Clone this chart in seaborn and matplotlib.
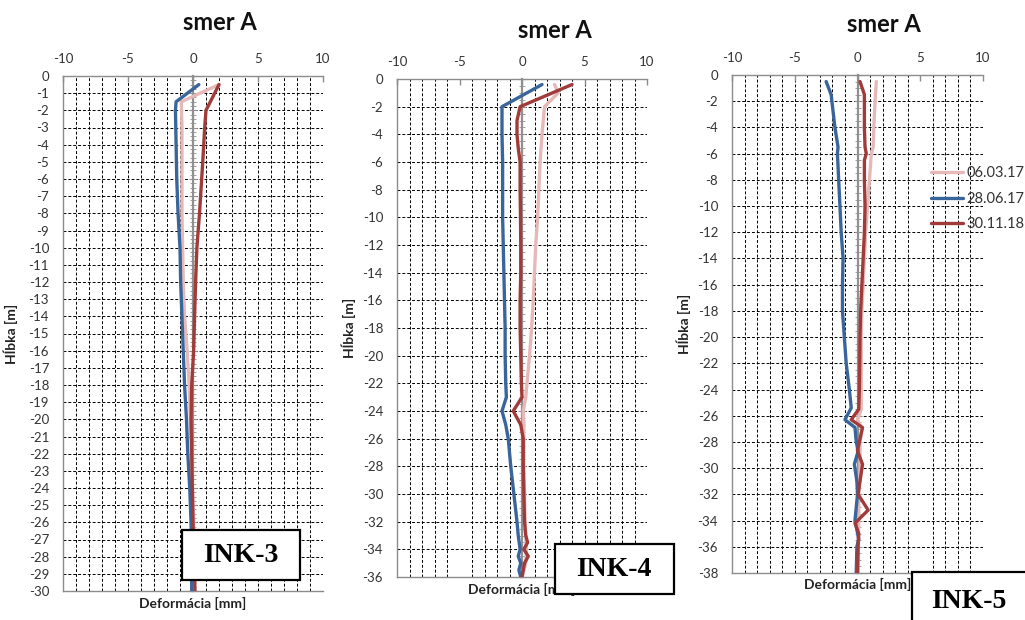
import numpy as np
import pandas as pd
import matplotlib
matplotlib.use("Agg")
import matplotlib.pyplot as plt
from matplotlib.patches import Rectangle
from matplotlib.ticker import MultipleLocator
import seaborn as sns

# ---------------- data ----------------
dates = ["06.03.17", "28.06.17", "30.11.18"]

# INK-3
ink3_pink_depth = [-0.5, -1.5, -3, -5, -8, -10, -12, -14, -16, -18, -20, -22, -24, -26, -28, -30]
ink3_pink_def = [2.0, -0.9, -0.85, -0.85, -0.85, -0.8, -0.75, -0.65, -0.45, -0.3, -0.2, -0.1, -0.05, 0.05, 0.1, 0.1]
ink3_blue_depth = [-0.5, -1.5, -2, -4, -6, -8, -10, -12, -14, -16, -18, -20, -22, -24, -26, -28, -30]
ink3_blue_def = [0.45, -1.3, -1.35, -1.3, -1.25, -1.15, -1.0, -0.95, -0.85, -0.75, -0.65, -0.5, -0.4, -0.25, -0.15, -0.1, -0.1]
ink3_red_depth = [-0.5, -2, -3, -5, -8, -10, -12, -14, -16, -18, -20, -22, -24, -26, -28, -30]
ink3_red_def = [2.0, 1.0, 0.9, 0.75, 0.5, 0.3, 0.2, 0.12, 0.05, -0.1, -0.15, -0.1, -0.05, 0.0, 0.1, 0.15]

# INK-4
ink4_pink_depth = [-0.4, -1, -2, -4, -6, -8, -10, -12, -14, -16, -18, -20, -22, -23, -24, -25, -26, -28, -30, -32, -34, -35, -36]
ink4_pink_def = [2.6, 2.9, 1.8, 1.6, 1.45, 1.35, 1.25, 1.1, 1.0, 0.9, 0.77, 0.6, 0.4, 0.3, 0.1, 0.15, 0.15, 0.15, 0.2, 0.25, 0.35, 0.3, 0.0]
ink4_blue_depth = [-0.4, -2, -4, -6, -8, -10, -12, -14, -16, -18, -20, -22, -23, -24, -25, -26, -28, -30, -32, -33, -34, -34.5, -35, -35.5, -36]
ink4_blue_def = [1.6, -1.6, -1.6, -1.55, -1.55, -1.55, -1.5, -1.45, -1.4, -1.35, -1.35, -1.3, -1.25, -1.6, -1.3, -1.1, -0.9, -0.65, -0.4, -0.3, -0.15, -0.3, -0.1, -0.25, -0.1]
ink4_red_depth = [-0.4, -2, -3, -4, -5, -6, -8, -10, -12, -14, -16, -18, -20, -22, -23, -24, -25, -26, -28, -30, -32, -33, -33.5, -34, -34.5, -35, -36]
ink4_red_def = [4.0, -0.15, -0.4, -0.4, -0.3, -0.15, -0.15, -0.12, -0.1, -0.1, -0.15, -0.15, -0.1, -0.05, 0.0, -0.7, -0.1, 0.1, 0.1, 0.15, 0.2, 0.3, 0.45, 0.15, 0.5, 0.2, 0.0]

# INK-5
ink5_pink_depth = [-0.5, -2, -4, -5.5, -6, -8, -10, -12, -14, -16, -18, -20, -22, -24, -25.5, -26.3, -27, -28, -30, -32, -34, -36, -38]
ink5_pink_def = [1.5, 1.4, 1.3, 1.25, 1.1, 0.95, 0.8, 0.65, 0.55, 0.45, 0.35, 0.3, 0.3, 0.3, 0.3, 0.0, 0.35, 0.2, 0.2, 0.1, 0.1, 0.05, 0.05]
ink5_blue_depth = [-0.5, -1.5, -4, -5.5, -6, -8, -10, -12, -14, -16, -18, -20, -22, -24, -25.4, -26.3, -26.9, -28, -28.7, -29.7, -31, -32, -33, -34, -35.4, -36, -38]
ink5_blue_def = [-2.5, -2.1, -1.8, -1.55, -1.6, -1.5, -1.4, -1.3, -1.15, -1.2, -1.2, -1.05, -0.9, -0.65, -0.5, -1.0, -0.2, -0.1, 0.05, -0.25, -0.05, 0.0, -0.1, -0.2, 0.1, -0.05, -0.1]
ink5_red_depth = [-0.5, -1.5, -4, -5.5, -6, -6.5, -8, -10, -12, -14, -16, -18, -20, -22, -24, -25.5, -26.3, -26.9, -28, -28.7, -29.7, -31, -32, -33.2, -34.2, -35, -36, -38]
ink5_red_def = [0.2, 0.55, 0.55, 0.6, 0.7, 0.55, 0.55, 0.6, 0.55, 0.45, 0.35, 0.25, 0.2, 0.18, 0.15, 0.1, -0.5, 0.4, 0.15, 0.0, 0.4, 0.2, 0.05, 0.85, -0.2, 0.1, 0.05, 0.0]

panel_names = ["INK-3", "INK-4", "INK-5"]
x_ticks = [-10, -5, 0, 5, 10]
title_text = "smer A"
xlabel_text = "Deformácia [mm]"
ylabel_text = "Hĺbka [m]"

panels = [
    ((ink3_pink_depth, ink3_pink_def), (ink3_blue_depth, ink3_blue_def), (ink3_red_depth, ink3_red_def)),
    ((ink4_pink_depth, ink4_pink_def), (ink4_blue_depth, ink4_blue_def), (ink4_red_depth, ink4_red_def)),
    ((ink5_pink_depth, ink5_pink_def), (ink5_blue_depth, ink5_blue_def), (ink5_red_depth, ink5_red_def)),
]
y_min = [-30, -36, -38]
y_step = [1, 2, 2]

# ---------------- style ----------------
sns.set_theme(style="white")
plt.rcParams["font.family"] = ["Lato", "DejaVu Sans"]
plt.rcParams["axes.unicode_minus"] = False

palette = {"06.03.17": "#E6B9B8", "28.06.17": "#3A659A", "30.11.18": "#A03B39"}
W, H = 1025, 620
fig = plt.figure(figsize=(W / 100, H / 100), dpi=100)
fig.patch.set_facecolor("white")

# axes rectangles in pixel coords: left, right, top, bottom
rects = [(63, 323, 76, 591), (397, 647, 79, 577), (732, 983, 75, 573)]
titles_pos = [(220, 23), (555, 30), (884, 25)]
ylab_x = [18, 356, 691]
xlab_gap = [12, 12, 11]

tick_color = "#333333"
spine_color = "#8C8C8C"
zero_color = "#909090"

for i, (series, (l, r, t, b)) in enumerate(zip(panels, rects)):
    ax = fig.add_axes([l / W, 1 - b / H, (r - l) / W, (b - t) / H])
    rows = []
    for name, (dep, val) in zip(dates, series):
        for d_, v_ in zip(dep, val):
            rows.append({"date": name, "depth": d_, "def": v_})
    df = pd.DataFrame(rows)
    sns.lineplot(data=df, x="def", y="depth", hue="date", palette=palette,
                 hue_order=dates, sort=False, estimator=None, orient="y",
                 linewidth=2.4, legend=(i == 2), ax=ax, zorder=3)

    ax.set_xlim(-10, 10)
    ax.set_ylim(y_min[i], 0)
    ax.set_xticks(x_ticks)
    ax.xaxis.set_minor_locator(MultipleLocator(1))
    ax.yaxis.set_major_locator(MultipleLocator(y_step[i]))
    ax.xaxis.tick_top()
    ax.tick_params(axis="x", which="major", direction="in", length=4, width=1,
                   color=spine_color, pad=8, labelsize=9.5, labelcolor=tick_color)
    ax.tick_params(axis="x", which="minor", direction="in", length=0)
    ax.tick_params(axis="y", which="both", length=0, pad=10, labelsize=9.5,
                   labelcolor=tick_color)

    ax.xaxis.grid(True, which="both", color="black", linestyle=(0, (3, 2)), linewidth=0.7)
    ax.yaxis.grid(True, which="major", color="black", linestyle=(0, (3, 2)), linewidth=0.7)
    ax.set_axisbelow(True)
    # the zero gridline is replaced by the grey value axis
    for tk in ax.xaxis.get_major_ticks():
        if abs(tk.get_loc()) < 1e-9:
            tk.gridline.set_visible(False)

    for s in ["top", "left", "bottom"]:
        ax.spines[s].set_color(spine_color)
        ax.spines[s].set_linewidth(1.0)
    ax.spines["right"].set_visible(False)

    # zero (value) axis with tick marks
    sec = ax.secondary_yaxis(0.5)
    sec.set_zorder(2)
    for sp in sec.spines.values():
        sp.set_color(zero_color)
        sp.set_linewidth(1.6)
    sec.yaxis.set_major_locator(MultipleLocator(y_step[i]))
    sec.yaxis.set_minor_locator(MultipleLocator(y_step[i] / 4))
    sec.tick_params(axis="y", which="major", direction="inout", length=6, width=0.8,
                    color=zero_color, labelleft=False, labelright=False)
    sec.tick_params(axis="y", which="minor", direction="inout", length=4, width=0.6,
                    color=zero_color)

    ax.set_ylabel(ylabel_text, fontsize=10, fontweight="bold", color="#222222")
    ax.yaxis.set_label_coords((ylab_x[i] - l) / (r - l), 0.5)
    ax.set_xlabel(xlabel_text, fontsize=10, fontweight="bold", color="#222222")
    ax.xaxis.set_label_position("bottom")
    ax.xaxis.set_label_coords(0.5, -xlab_gap[i] / (b - t))
    ax.xaxis.label.set_verticalalignment("center")

    tx, ty = titles_pos[i]
    fig.text(tx / W, 1 - ty / H, title_text, ha="center", va="center",
             fontsize=17, fontweight="bold", color="#111111")

    if i == 2:
        sns.move_legend(ax, "upper left", bbox_to_anchor=(931 / W, 1 - 166 / H),
                        bbox_transform=fig.transFigure, frameon=False, title=None,
                        fontsize=10.5, handlelength=2.2, handletextpad=0.25,
                        labelspacing=0.8, borderpad=0, borderaxespad=0)
        for txt in ax.get_legend().get_texts():
            txt.set_color(tick_color)

# name boxes
boxes = [((182, 530, 300, 580), (241, 556)),
         ((555, 544, 674, 594), (614, 569)),
         ((912, 572, 1035, 630), (969, 602))]
for name, ((x0, y0, x1, y1), (cx, cy)) in zip(panel_names, boxes):
    rect = Rectangle((x0 / W, 1 - y1 / H), (x1 - x0) / W, (y1 - y0) / H,
                     transform=fig.transFigure, facecolor="white",
                     edgecolor="black", linewidth=1.6, zorder=20)
    fig.add_artist(rect)
    fig.text(cx / W, 1 - cy / H, name, ha="center", va="center",
             fontsize=20, fontweight="bold", family="Liberation Serif",
             color="black", zorder=21)

fig.savefig("out.png", dpi=100, facecolor="white")
